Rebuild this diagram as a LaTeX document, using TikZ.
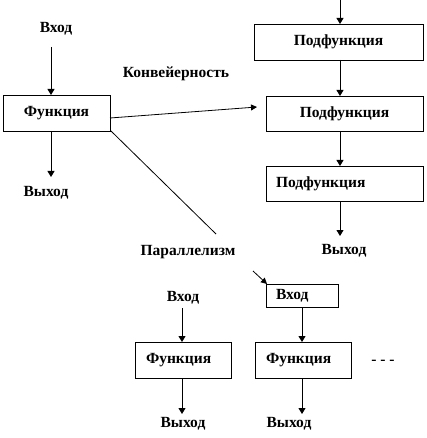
\documentclass[tikz,border=0pt]{standalone}
\usepackage{fontspec}
\setmainfont{Liberation Serif}
\usetikzlibrary{arrows.meta}
\begin{document}
\begin{tikzpicture}[x=1pt,y=-1pt,
  lbl/.style={font=\bfseries\fontsize{15.5}{17}\selectfont, inner sep=0pt},
  box/.style={draw, line width=0.9pt, inner ysep=0pt, font=\bfseries\fontsize{15.5}{17}\selectfont},
  arr/.style={line width=0.9pt, -{Triangle[length=6pt,width=7pt]}},
  thin/.style={line width=0.8pt, draw=black}]
\useasboundingbox (0,0) rectangle (426,438);
% left top
\node[lbl] (in1) at (56,29) {Вход};
\node[box, minimum width=107pt, minimum height=36pt] (f1) at (56.5,113) {Функция};
\node[lbl] (out1) at (46,193) {Выход};
\draw[arr] (51,47) -- (51,95);
\draw[arr] (51,131) -- (51,177);
\node[lbl] (conv) at (176,74) {Конвейерность};
% right column
\coordinate (topin) at (340,0);
\node[box, minimum width=169pt, minimum height=36pt] (p1) at (338.5,42) {Подфункция};
\node[box, minimum width=157pt, minimum height=35pt] (p2) at (344.5,113.5) {Подфункция};
\node[box, minimum width=157pt, minimum height=35pt, text width=137pt, inner xsep=10pt, align=left] (p3) at (344.5,183.5) {Подфункция};
\node[lbl] (out2) at (344,251) {Выход};
\draw[arr] (topin) -- (340,24);
\draw[arr] (340,60) -- (340,96);
\draw[arr] (340,131) -- (340,166);
\draw[arr] (340,201) -- (340,236);
% pipeline arrow
\coordinate (c1) at (110,118);
\coordinate (c2) at (257,107);
\draw[thin, -{Triangle[length=6pt,width=6pt]}] (c1) -- (c2);
% parallelism
\node[lbl] (par) at (188,252) {Параллелизм};
\coordinate (d1) at (111,131);
\coordinate (d2) at (216,234);
\coordinate (d3) at (253,271);
\coordinate (d4) at (267,284);
\draw[thin] (d1) -- (d2);
\draw[thin, -{Triangle[length=6pt,width=6pt]}] (d3) -- (d4);
% bottom left
\node[lbl] (in3) at (183,298) {Вход};
\node[box, minimum width=96pt, minimum height=36pt, text width=74pt, inner xsep=11pt, align=left] (f3) at (183,360) {Функция};
\node[lbl] (out3) at (183,424) {Выход};
\draw[arr] (182,308) -- (182,342);
\draw[arr] (182,378) -- (182,414);
% bottom right
\node[box, minimum width=72pt, minimum height=23pt, text width=52pt, inner xsep=10pt, align=left] (in4) at (302,295.5) {Вход};
\node[box, minimum width=96pt, minimum height=36pt, text width=74pt, inner xsep=11pt, align=left] (f4) at (303,360) {Функция};
\node[lbl] (out4) at (289,424) {Выход};
\draw[arr] (302,307) -- (302,342);
\draw[arr] (302,378) -- (302,414);
\node[lbl] (dots) at (383,362) {- - -};
\end{tikzpicture}
\end{document}
